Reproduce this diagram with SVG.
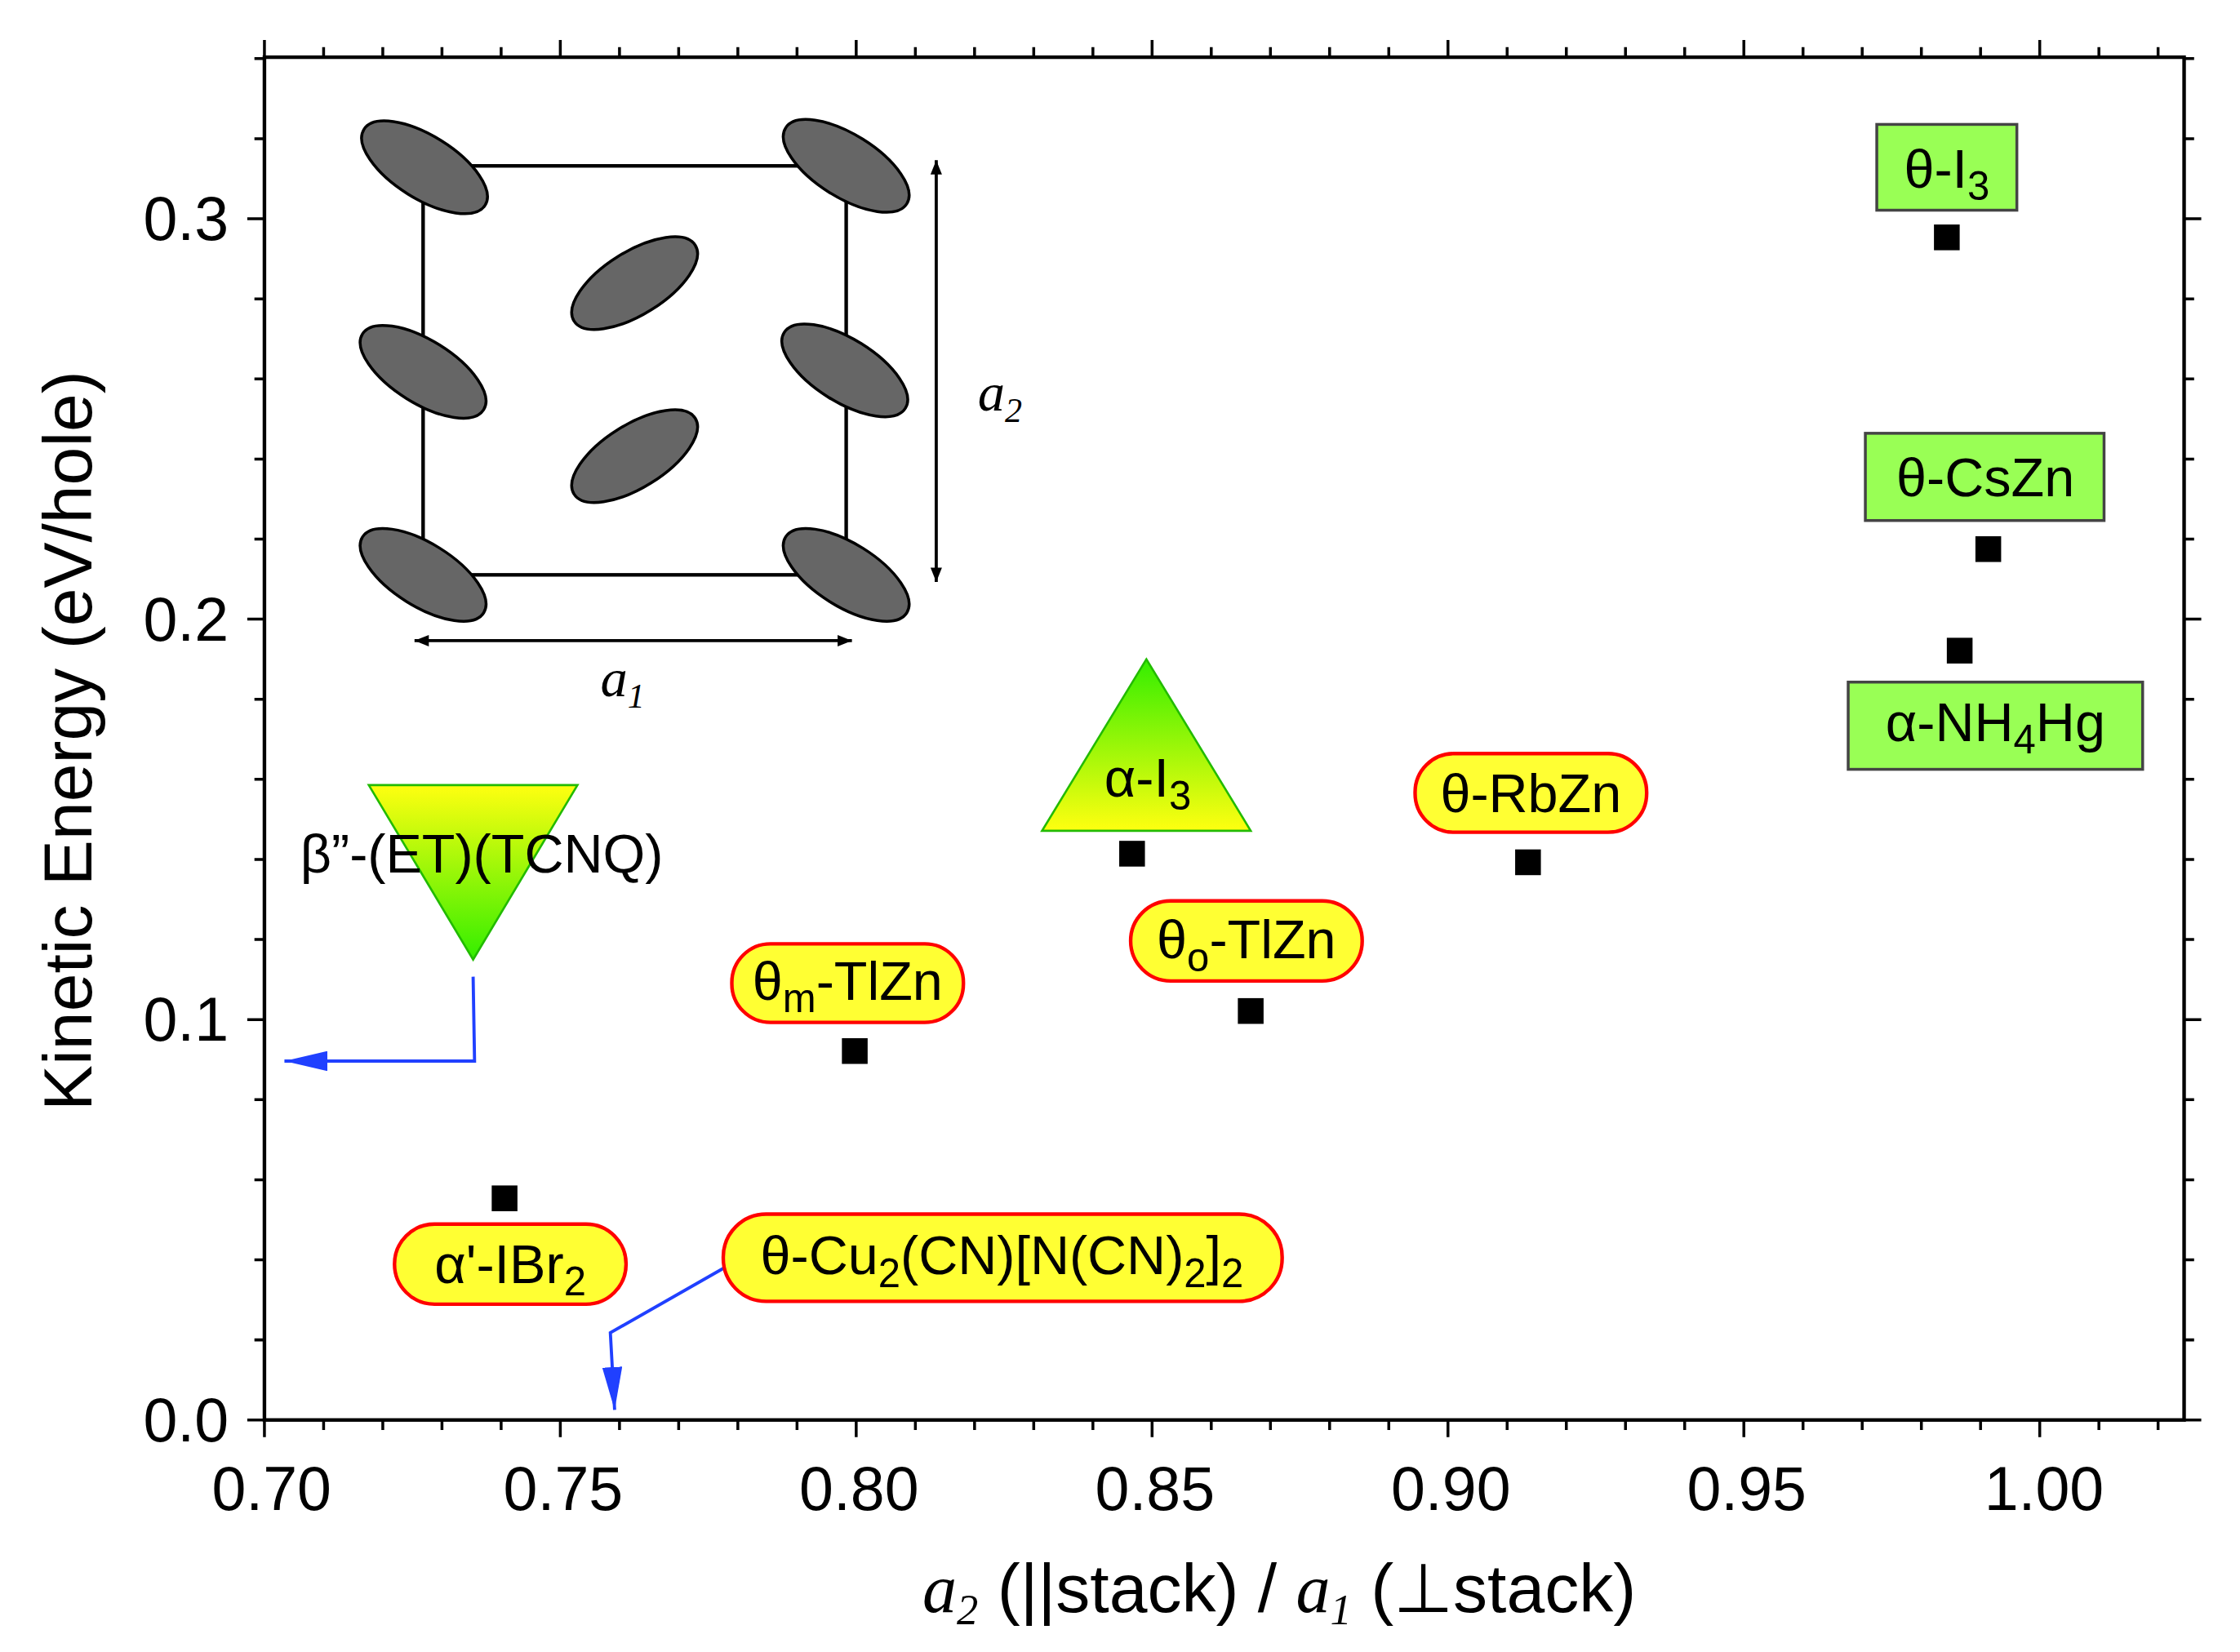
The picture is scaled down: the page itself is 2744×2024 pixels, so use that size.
<svg xmlns="http://www.w3.org/2000/svg" width="2744" height="2024" viewBox="0 0 2744 2024">
<defs>
<style>
text{font-family:"Liberation Sans",Arial,sans-serif;fill:#000}
.ax{stroke:#000;stroke-width:2.5;fill:none}
.tk{stroke:#000;stroke-width:2}
.lbl{font-size:38px}
.sb{font-size:28px}
.tl{font-size:43px}
.pill{fill:#ffff33;stroke:#ff0000;stroke-width:2.5}
.box{fill:#99ff55;stroke:#444;stroke-width:2}
.pt{fill:#000}
.el{fill:#666;stroke:#000;stroke-width:2}
.blue{stroke:#2040ff;stroke-width:2.2;fill:none}
.it{font-family:"Liberation Serif","Times New Roman",serif;font-style:italic}
</style>
<linearGradient id="gDown" x1="0" y1="0" x2="0" y2="1"><stop offset="0" stop-color="#ffff10"/><stop offset="1" stop-color="#33ee00"/></linearGradient>
<linearGradient id="gUp" x1="0" y1="0" x2="0" y2="1"><stop offset="0" stop-color="#33ee00"/><stop offset="1" stop-color="#ffff10"/></linearGradient>
<marker id="ab" viewBox="0 0 30 14" refX="30" refY="7" markerWidth="30" markerHeight="14" markerUnits="userSpaceOnUse" orient="auto"><path d="M0,0 L30,7 L0,14 z" fill="#2040ff"/></marker>
<marker id="ak" viewBox="0 0 10 10" refX="10" refY="5" markerWidth="14" markerHeight="10" markerUnits="userSpaceOnUse" orient="auto-start-reverse"><path d="M0,1 L10,5 L0,9 z" fill="#000"/></marker>
</defs>
<rect width="2744" height="2024" fill="#fff"/>
<g transform="scale(1.751,1.752)">
<g id="axes">
<rect class="ax" x="185" y="40" width="1343" height="953"/>
<path class="tk" d="M185,993v12M226.4,993v7M267.8,993v7M309.2,993v7M350.6,993v7M392,993v12M433.4,993v7M474.8,993v7M516.2,993v7M557.6,993v7M599,993v12M640.4,993v7M681.8,993v7M723.2,993v7M764.6,993v7M806,993v12M847.4,993v7M888.8,993v7M930.2,993v7M971.6,993v7M1013,993v12M1054.4,993v7M1095.8,993v7M1137.2,993v7M1178.6,993v7M1220,993v12M1261.4,993v7M1302.8,993v7M1344.2,993v7M1385.6,993v7M1427,993v12M1468.4,993v7M1509.8,993v7"/>
<path class="tk" d="M185,40v-12M226.4,40v-7M267.8,40v-7M309.2,40v-7M350.6,40v-7M392,40v-12M433.4,40v-7M474.8,40v-7M516.2,40v-7M557.6,40v-7M599,40v-12M640.4,40v-7M681.8,40v-7M723.2,40v-7M764.6,40v-7M806,40v-12M847.4,40v-7M888.8,40v-7M930.2,40v-7M971.6,40v-7M1013,40v-12M1054.4,40v-7M1095.8,40v-7M1137.2,40v-7M1178.6,40v-7M1220,40v-12M1261.4,40v-7M1302.8,40v-7M1344.2,40v-7M1385.6,40v-7M1427,40v-12M1468.4,40v-7M1509.8,40v-7"/>
<path class="tk" d="M185,993h-12M185,937h-7M185,881h-7M185,825h-7M185,769h-7M185,713h-12M185,657h-7M185,601h-7M185,545h-7M185,489h-7M185,433h-12M185,377h-7M185,321h-7M185,265h-7M185,209h-7M185,153h-12M185,97h-7M185,41h-7"/>
<path class="tk" d="M1528,993h12M1528,937h7M1528,881h7M1528,825h7M1528,769h7M1528,713h12M1528,657h7M1528,601h7M1528,545h7M1528,489h7M1528,433h12M1528,377h7M1528,321h7M1528,265h7M1528,209h7M1528,153h12M1528,97h7M1528,41h7"/>
<g class="tl" text-anchor="middle">
<text x="190" y="1056">0.70</text><text x="394" y="1056">0.75</text><text x="601" y="1056">0.80</text><text x="808" y="1056">0.85</text><text x="1015" y="1056">0.90</text><text x="1222" y="1056">0.95</text><text x="1430" y="1056">1.00</text>
</g>
<g class="tl" text-anchor="end">
<text x="160" y="1008">0.0</text><text x="160" y="728">0.1</text><text x="160" y="448">0.2</text><text x="160" y="168">0.3</text>
</g>
<text x="48" y="518" font-size="48" text-anchor="middle" transform="rotate(-90 48 518)" dy="16">Kinetic Energy (eV/hole)</text>
<text x="895" y="1127" font-size="48" text-anchor="middle"><tspan class="it">a</tspan><tspan class="it" font-size="30" dy="9">2</tspan><tspan dy="-9"> (||stack) / </tspan><tspan class="it">a</tspan><tspan class="it" font-size="30" dy="9">1</tspan><tspan dy="-9"> (⊥stack)</tspan></text>
</g>
<g id="inset">
<rect x="296" y="116" width="296" height="286" fill="none" stroke="#000" stroke-width="2.5"/>
<ellipse class="el" cx="297" cy="117" rx="50" ry="22" transform="rotate(32 297 117)"/>
<ellipse class="el" cx="592" cy="116" rx="50" ry="22" transform="rotate(32 592 116)"/>
<ellipse class="el" cx="296" cy="260" rx="50" ry="22" transform="rotate(32 296 260)"/>
<ellipse class="el" cx="591" cy="259" rx="50" ry="22" transform="rotate(32 591 259)"/>
<ellipse class="el" cx="296" cy="402" rx="50" ry="22" transform="rotate(32 296 402)"/>
<ellipse class="el" cx="592" cy="402" rx="50" ry="22" transform="rotate(32 592 402)"/>
<ellipse class="el" cx="444" cy="198" rx="50" ry="22" transform="rotate(-32 444 198)"/>
<ellipse class="el" cx="444" cy="319" rx="50" ry="22" transform="rotate(-32 444 319)"/>
<line x1="290" y1="448" x2="596" y2="448" stroke="#000" stroke-width="2.2" marker-start="url(#ak)" marker-end="url(#ak)"/>
<line x1="655" y1="112" x2="655" y2="407" stroke="#000" stroke-width="2.2" marker-start="url(#ak)" marker-end="url(#ak)"/>
<text x="684" y="287" font-size="38" class="it">a<tspan font-size="24" dy="8">2</tspan></text>
<text x="420" y="487" font-size="38" class="it">a<tspan font-size="24" dy="8">1</tspan></text>
</g>
<g id="connectors">
<polyline class="blue" points="331,683 332,742 199,742" marker-end="url(#ab)"/>
<polyline class="blue" points="506,887 427,932 430,986" marker-end="url(#ab)"/>
</g>
<g id="points">
<rect class="pt" x="344" y="829" width="18" height="18"/>
<rect class="pt" x="589" y="726" width="18" height="18"/>
<rect class="pt" x="783" y="588" width="18" height="18"/>
<rect class="pt" x="866" y="698" width="18" height="18"/>
<rect class="pt" x="1060" y="594" width="18" height="18"/>
<rect class="pt" x="1353" y="157" width="18" height="18"/>
<rect class="pt" x="1382" y="375" width="18" height="18"/>
<rect class="pt" x="1362" y="446" width="18" height="18"/>
</g>
<g id="n-thetaI3"><rect class="box" x="1313" y="87" width="98" height="60"/><text class="lbl" x="1362" y="131" text-anchor="middle">θ-I<tspan class="sb" dy="9">3</tspan></text></g>
<g id="n-thetaCsZn"><rect class="box" x="1305" y="303" width="167" height="61"/><text class="lbl" x="1389" y="347" text-anchor="middle">θ-CsZn</text></g>
<g id="n-alphaNH4Hg"><rect class="box" x="1293" y="477" width="206" height="61"/><text class="lbl" x="1396" y="518" text-anchor="middle">α-NH<tspan class="sb" dy="9">4</tspan><tspan dy="-9">Hg</tspan></text></g>
<g id="n-alphaIBr2"><rect class="pill" x="276" y="856" width="162" height="56" rx="28"/><text class="lbl" x="357" y="897" text-anchor="middle">α'-IBr<tspan class="sb" dy="9">2</tspan></text></g>
<g id="n-thetaCu"><rect class="pill" x="506" y="849" width="391" height="61" rx="30"/><text class="lbl" x="701" y="891" text-anchor="middle">θ-Cu<tspan class="sb" dy="9">2</tspan><tspan dy="-9">(CN)[N(CN)</tspan><tspan class="sb" dy="9">2</tspan><tspan dy="-9">]</tspan><tspan class="sb" dy="9">2</tspan></text></g>
<g id="n-thetamTlZn"><rect class="pill" x="512" y="660" width="162" height="55" rx="27"/><text class="lbl" x="593" y="699" text-anchor="middle">θ<tspan class="sb" dy="9">m</tspan><tspan dy="-9">-TlZn</tspan></text></g>
<g id="n-thetaoTlZn"><rect class="pill" x="791" y="630" width="162" height="56" rx="28"/><text class="lbl" x="872" y="670" text-anchor="middle">θ<tspan class="sb" dy="9">o</tspan><tspan dy="-9">-TlZn</tspan></text></g>
<g id="n-thetaRbZn"><rect class="pill" x="990" y="527" width="162" height="55" rx="27"/><text class="lbl" x="1071" y="568" text-anchor="middle">θ-RbZn</text></g>
<g id="n-betaET"><polygon points="258,549 404,549 331,671" fill="url(#gDown)" stroke="#22bb00" stroke-width="1.5"/><text class="lbl" x="210" y="610">β”-(ET)(TCNQ)</text></g>
<g id="n-alphaI3"><polygon points="802,461 875,581 729,581" fill="url(#gUp)" stroke="#22bb00" stroke-width="1.5"/><text class="lbl" x="803" y="557" text-anchor="middle">α-I<tspan class="sb" dy="9">3</tspan></text></g>
</g>
</svg>
